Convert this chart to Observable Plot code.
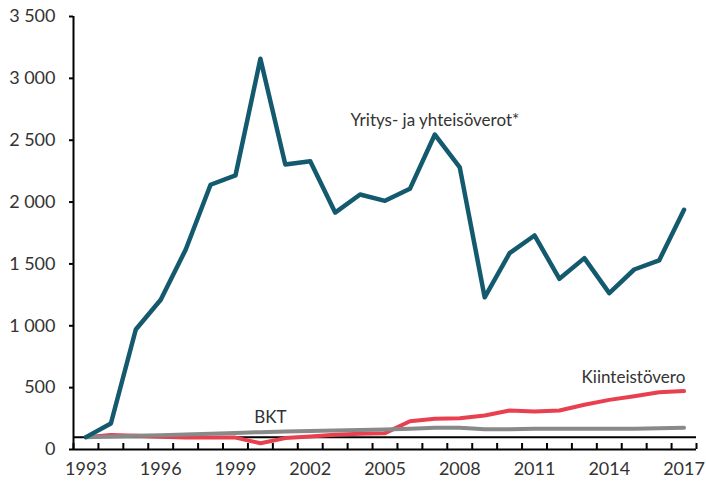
<!DOCTYPE html>
<html>
<head>
<meta charset="utf-8">
<script src="https://cdn.jsdelivr.net/npm/d3@7"></script>
<script src="https://cdn.jsdelivr.net/npm/@observablehq/plot@0.6"></script>
<style>
  html, body { margin: 0; padding: 0; background: #fff; }
  #chart { width: 706px; height: 482px; }
</style>
</head>
<body>
<div id="chart"></div>
<script>
const years = d3.range(1993, 2018);
const yritysVerot = [100, 210, 970, 1210, 1615, 2140, 2215, 3158, 2304, 2330, 1915, 2061, 2010, 2107, 2546, 2280, 1230, 1587, 1730, 1380, 1547, 1264, 1455, 1528, 1937];
const kiinteistovero = [100, 118, 112, 104, 98, 98, 96, 51, 92, 105, 119, 127, 132, 228, 248, 253, 275, 315, 307, 315, 362, 401, 431, 463, 472];
const bkt = [100, 106, 111, 116, 122, 128, 134, 140, 146, 150, 153, 157, 161, 167, 175, 175, 164, 164, 168, 168, 168, 167, 168, 171, 176];
const yTicks = [0, 500, 1000, 1500, 2000, 2500, 3000, 3500];
const xTickLabels = [1993, 1996, 1999, 2002, 2005, 2008, 2011, 2014, 2017];
const seriesNames = ["Yritys- ja yhteisöverot*", "Kiinteistövero", "BKT"];
const seriesColors = ["#145a6e", "#e8404f", "#898989"];
const baseIndex = 100;

const rows = [];
[yritysVerot, kiinteistovero, bkt].forEach((vals, i) => {
  vals.forEach((v, j) => rows.push({series: seriesNames[i], year: years[j], value: v}));
});
const bySeries = name => rows.filter(r => r.series === name);

const fmt = d3.formatLocale({decimal: ",", thousands: " ", grouping: [3], currency: ["", "€"]}).format(",d");
const boundaries = d3.range(1992.5, 2018, 1);

const labelMid = [
  {text: seriesNames[0], year: 2007.0, value: 2660},
  {text: seriesNames[2], year: 2000.4, value: 262}
];
const labelEnd = [
  {text: seriesNames[1], year: 2017.05, value: 582}
];

const chart = Plot.plot({
  width: 706,
  height: 482,
  marginLeft: 73,
  marginRight: 10,
  marginTop: 16,
  marginBottom: 33,
  style: {fontFamily: "Lato, 'Liberation Sans', sans-serif", background: "#fff"},
  x: {type: "linear", domain: [1992.5, 2017.5]},
  y: {type: "linear", domain: [0, 3500]},
  marks: [
    Plot.axisY({ticks: yTicks, tickSize: 4, tickPadding: 14, tickFormat: fmt, fontSize: 18, color: "#333", stroke: "#000", strokeWidth: 2, label: null}),
    Plot.axisX({ticks: xTickLabels, tickSize: 0, tickPadding: 13, tickFormat: d => String(d), fontSize: 18, color: "#333", label: null}),
    Plot.axisX({ticks: boundaries, tickSize: -6, tickFormat: () => "", stroke: "#000", strokeWidth: 2, label: null}),
    Plot.ruleX([1992.5], {y1: 0, y2: 3500, stroke: "#000", strokeWidth: 2}),
    Plot.ruleY([0], {stroke: "#000", strokeWidth: 2}),
    Plot.ruleY([baseIndex], {stroke: "#000", strokeWidth: 2}),
    Plot.lineY(bySeries(seriesNames[1]), {x: "year", y: "value", stroke: seriesColors[1], strokeWidth: 4}),
    Plot.lineY(bySeries(seriesNames[2]), {x: "year", y: "value", stroke: seriesColors[2], strokeWidth: 4}),
    Plot.lineY(bySeries(seriesNames[0]), {x: "year", y: "value", stroke: seriesColors[0], strokeWidth: 4.5}),
    Plot.text(labelMid, {x: "year", y: "value", text: "text", textAnchor: "middle", fontSize: 17, fill: "#333"}),
    Plot.text(labelEnd, {x: "year", y: "value", text: "text", textAnchor: "end", fontSize: 17, fill: "#333"})
  ]
});
document.getElementById("chart").appendChild(chart);
</script>
</body>
</html>
